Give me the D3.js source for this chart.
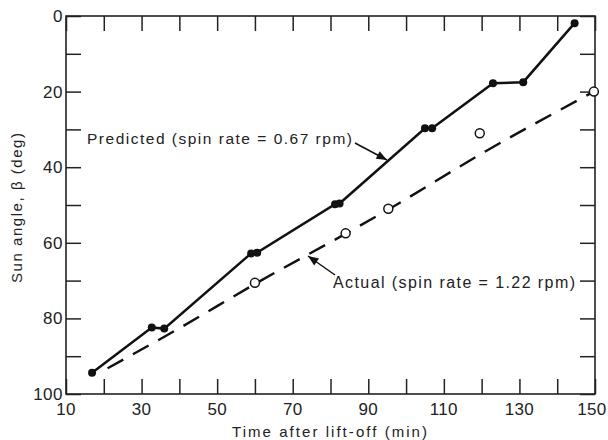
<!DOCTYPE html>
<html>
<head>
<meta charset="utf-8">
<script src="https://cdn.jsdelivr.net/npm/d3@7"></script>
<style>
body { margin: 0; background: #fff; }
text { font-family: "Liberation Sans", Arial, sans-serif; fill: #222; }
.frame { fill: none; stroke: #222; stroke-width: 1.6; }
.tick line { stroke: #222; stroke-width: 1.5; }
</style>
</head>
<body>
<script>
// predicted sun angle (filled points)
var predTime  = [16.9, 32.7, 36.0, 59.0, 60.6, 81.2, 82.4, 105.0, 106.9, 123.0, 131.0, 144.6];
var predAngle = [94.4, 82.4, 82.7, 62.8, 62.6, 49.8, 49.6, 29.7, 29.7, 17.8, 17.5, 1.9];
// measured sun angle (open circles)
var actTime  = [60.0, 84.0, 95.3, 119.5, 149.7];
var actAngle = [70.6, 57.5, 51.0, 31.0, 20.0];
// dashed fitted curve through the measurements
var fitTime  = [21.0, 40, 60.0, 84.0, 95.3, 120, 149.7];
var fitAngle = [93.2, 82.6, 70.9, 57.6, 51.2, 36.4, 20.0];

var xTicks = d3.range(10, 151, 10);
var xLabels = [10, 30, 50, 70, 90, 110, 130, 150];
var yTicks = d3.range(0, 101, 10);
var yLabels = [0, 20, 40, 60, 80, 100];

(function(){

var width = 608, height = 440;
var plotLeft = 66, plotRight = 595, plotTop = 16, plotBottom = 394;

var svg = d3.select("body").append("svg")
    .attr("width", width)
    .attr("height", height);

var x = d3.scaleLinear().domain([10, 150]).range([plotLeft, plotRight]);
var y = d3.scaleLinear().domain([0, 100]).range([plotTop, plotBottom]);

// inward ticks on all four sides
var tickLen = 15;
function noDomain(g){ g.select(".domain").remove(); }
svg.append("g").attr("transform", "translate(0," + plotBottom + ")")
    .call(d3.axisTop(x).tickValues(xTicks).tickSize(tickLen).tickFormat(""))
    .call(noDomain);
svg.append("g").attr("transform", "translate(0," + plotTop + ")")
    .call(d3.axisBottom(x).tickValues(xTicks).tickSize(tickLen).tickFormat(""))
    .call(noDomain);
svg.append("g").attr("transform", "translate(" + plotLeft + ",0)")
    .call(d3.axisRight(y).tickValues(yTicks).tickSize(tickLen).tickFormat(""))
    .call(noDomain);
svg.append("g").attr("transform", "translate(" + plotRight + ",0)")
    .call(d3.axisLeft(y).tickValues(yTicks).tickSize(tickLen).tickFormat(""))
    .call(noDomain);

svg.append("rect").attr("class", "frame")
    .attr("x", plotLeft).attr("y", plotTop)
    .attr("width", plotRight - plotLeft).attr("height", plotBottom - plotTop);

// tick labels (last one nudged so it stays inside the page)
svg.selectAll(".xl").data(xLabels).enter().append("text")
    .attr("x", function(d){ return Math.min(x(d), width - 16); })
    .attr("y", 415)
    .attr("text-anchor", "middle")
    .style("font-size", "17px")
    .style("letter-spacing", "0.3px")
    .text(function(d){ return d; });
svg.selectAll(".yl").data(yLabels).enter().append("text")
    .attr("x", plotLeft - 3)
    .attr("y", function(d){ return y(d) + 6; })
    .attr("text-anchor", "end")
    .style("font-size", "17px")
    .style("letter-spacing", "0.5px")
    .text(function(d){ return d; });

// axis titles
svg.append("text")
    .attr("x", 232).attr("y", 437)
    .attr("textLength", 195).attr("lengthAdjust", "spacing")
    .style("font-size", "15px")
    .text("Time after lift-off (min)");
svg.append("text")
    .attr("transform", "translate(22,283) rotate(-90)")
    .attr("textLength", 150).attr("lengthAdjust", "spacing")
    .style("font-size", "15px")
    .text("Sun angle, \u03B2 (deg)");

// lines
var pred = predTime.map(function(t, i){ return [t, predAngle[i]]; });
var fit = fitTime.map(function(t, i){ return [t, fitAngle[i]]; });
var act = actTime.map(function(t, i){ return [t, actAngle[i]]; });

var line = d3.line()
    .x(function(d){ return x(d[0]); })
    .y(function(d){ return y(d[1]); });

svg.append("path")
    .attr("d", line.curve(d3.curveMonotoneX)(fit))
    .attr("fill", "none")
    .attr("stroke", "#111")
    .attr("stroke-width", 2.4)
    .attr("stroke-dasharray", "18,11");

svg.append("path")
    .attr("d", line.curve(d3.curveLinear)(pred))
    .attr("fill", "none")
    .attr("stroke", "#111")
    .attr("stroke-width", 2.5);

svg.selectAll(".pp").data(pred).enter().append("circle")
    .attr("cx", function(d){ return x(d[0]); })
    .attr("cy", function(d){ return y(d[1]); })
    .attr("r", 4)
    .attr("fill", "#111");

svg.selectAll(".ap").data(act).enter().append("circle")
    .attr("cx", function(d){ return x(d[0]); })
    .attr("cy", function(d){ return y(d[1]); })
    .attr("r", 4.5)
    .attr("fill", "#fff")
    .attr("stroke", "#111")
    .attr("stroke-width", 1.5);

// annotations
svg.append("defs").append("marker")
    .attr("id", "arrow")
    .attr("viewBox", "0 0 10 10")
    .attr("refX", 10).attr("refY", 5)
    .attr("markerWidth", 9).attr("markerHeight", 7)
    .attr("orient", "auto")
    .append("path").attr("d", "M0,1 L10,5 L0,9 Z").attr("fill", "#111");

svg.append("text")
    .attr("x", 87).attr("y", 144)
    .attr("textLength", 265).attr("lengthAdjust", "spacing")
    .style("font-size", "15.5px")
    .text("Predicted (spin rate = 0.67 rpm)");
svg.append("line")
    .attr("x1", 355).attr("y1", 143).attr("x2", 387).attr("y2", 160)
    .attr("stroke", "#111").attr("stroke-width", 1.5)
    .attr("marker-end", "url(#arrow)");

svg.append("text")
    .attr("x", 333).attr("y", 288)
    .attr("textLength", 242).attr("lengthAdjust", "spacing")
    .style("font-size", "16px")
    .text("Actual (spin rate = 1.22 rpm)");
svg.append("line")
    .attr("x1", 335).attr("y1", 275).attr("x2", 308).attr("y2", 256)
    .attr("stroke", "#111").attr("stroke-width", 1.5)
    .attr("marker-end", "url(#arrow)");

})();
</script>
</body>
</html>
